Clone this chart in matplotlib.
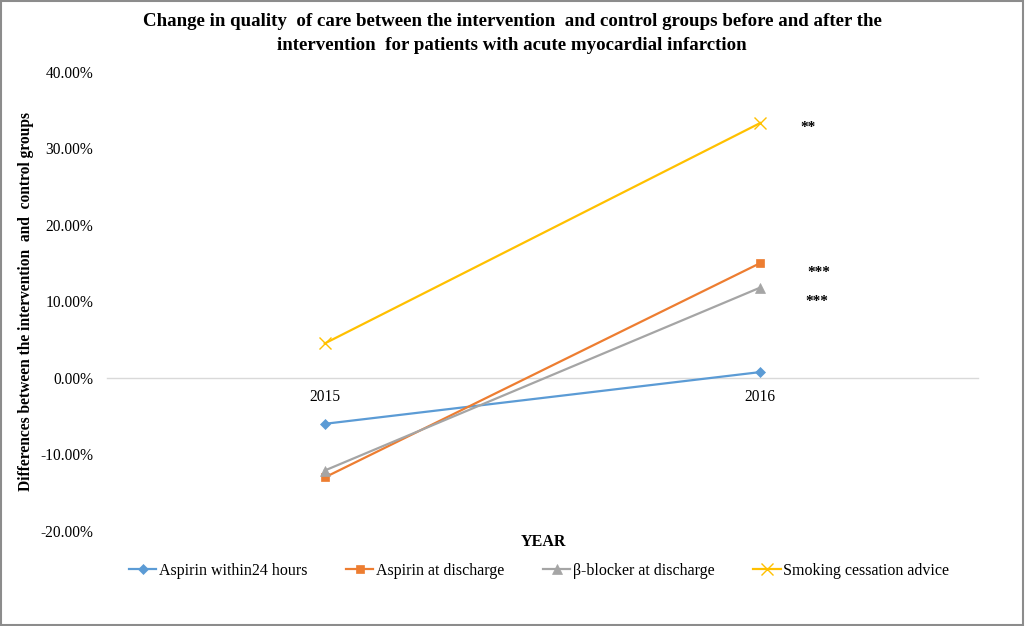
import matplotlib
matplotlib.use("Agg")
import matplotlib.pyplot as plt
from matplotlib.patches import Rectangle
from matplotlib.ticker import FuncFormatter

plt.rcParams['font.family'] = ['Liberation Serif', 'DejaVu Serif']

years = ["2015", "2016"]
series_names = ["Aspirin within24 hours", "Aspirin at discharge",
                "β-blocker at discharge", "Smoking cessation advice"]
aspirin_24h = [-0.060, 0.0076]
aspirin_discharge = [-0.130, 0.150]
beta_blocker = [-0.121, 0.118]
smoking_advice = [0.045, 0.333]
significance = ["", "***", "***", "**"]

colors = ["#5B9BD5", "#ED7D31", "#A5A5A5", "#FFC000"]
markers = ["D", "s", "^", "x"]
msizes = [5, 6, 7.5, 9]

fig = plt.figure(figsize=(10.25, 6.26), dpi=100)
ax = fig.add_axes([107/1025, 1 - 531/626, (978-107)/1025, (531-71.7)/626])

data = [aspirin_24h, aspirin_discharge, beta_blocker, smoking_advice]
xs = list(range(len(years)))
for name, vals, c, m, ms in zip(series_names, data, colors, markers, msizes):
    ax.plot(xs, vals, color=c, lw=1.6, marker=m, markersize=ms,
            markeredgewidth=1.0 if m == "x" else 0.5, label=name, zorder=3)

# significance labels beside 2016 points
sig_pos = [None, (1.135, 0.138), (1.13, 0.100), (1.11, 0.327)]
for s, p in zip(significance, sig_pos):
    if s and p:
        ax.text(p[0], p[1], s, ha='center', va='center', fontsize=11,
                fontweight='bold')

ax.set_xlim(-0.5, 1.5)
ax.set_ylim(-0.2, 0.4)
ax.set_yticks([-0.2, -0.1, 0.0, 0.1, 0.2, 0.3, 0.4])
ax.yaxis.set_major_formatter(FuncFormatter(lambda v, p: f"{v*100:.2f}%"))
ax.set_xticks(xs)
ax.set_xticklabels(years)

for sp in ["top", "right", "left"]:
    ax.spines[sp].set_visible(False)
ax.spines["bottom"].set_position(("data", 0))
ax.spines["bottom"].set_color("#D9D9D9")
ax.spines["bottom"].set_linewidth(1.0)
ax.tick_params(axis="both", length=0, labelsize=11.2)
ax.tick_params(axis="y", pad=10)
ax.tick_params(axis="x", pad=8)

ax.set_ylabel("Differences between the intervention  and  control groups",
              fontsize=11.2, fontweight='bold')
ax.yaxis.set_label_coords(-(107-34)/871, 0.5)
fig.text(543/1025, 1 - 542/626, "YEAR", ha='center', va='center',
         fontsize=11.5, fontweight='bold')

fig.text(512/1025, 1 - 22/626,
         "Change in quality  of care between the intervention  and control groups before and after the",
         ha='center', va='center', fontsize=13.6, fontweight='bold')
fig.text(512/1025, 1 - 45.5/626,
         "intervention  for patients with acute myocardial infarction",
         ha='center', va='center', fontsize=13.6, fontweight='bold')

fig.legend(loc='center', bbox_to_anchor=(539/1025, 1 - 571/626), ncol=4,
           frameon=False, fontsize=11.5, handlelength=1.7, handletextpad=0.15,
           columnspacing=2.45)

fig.patches.append(Rectangle((0.001, 0.002), 0.997, 0.996, transform=fig.transFigure,
                             fill=False, edgecolor="#8C8C8C", lw=1.5))

fig.savefig("out.png", dpi=100)
